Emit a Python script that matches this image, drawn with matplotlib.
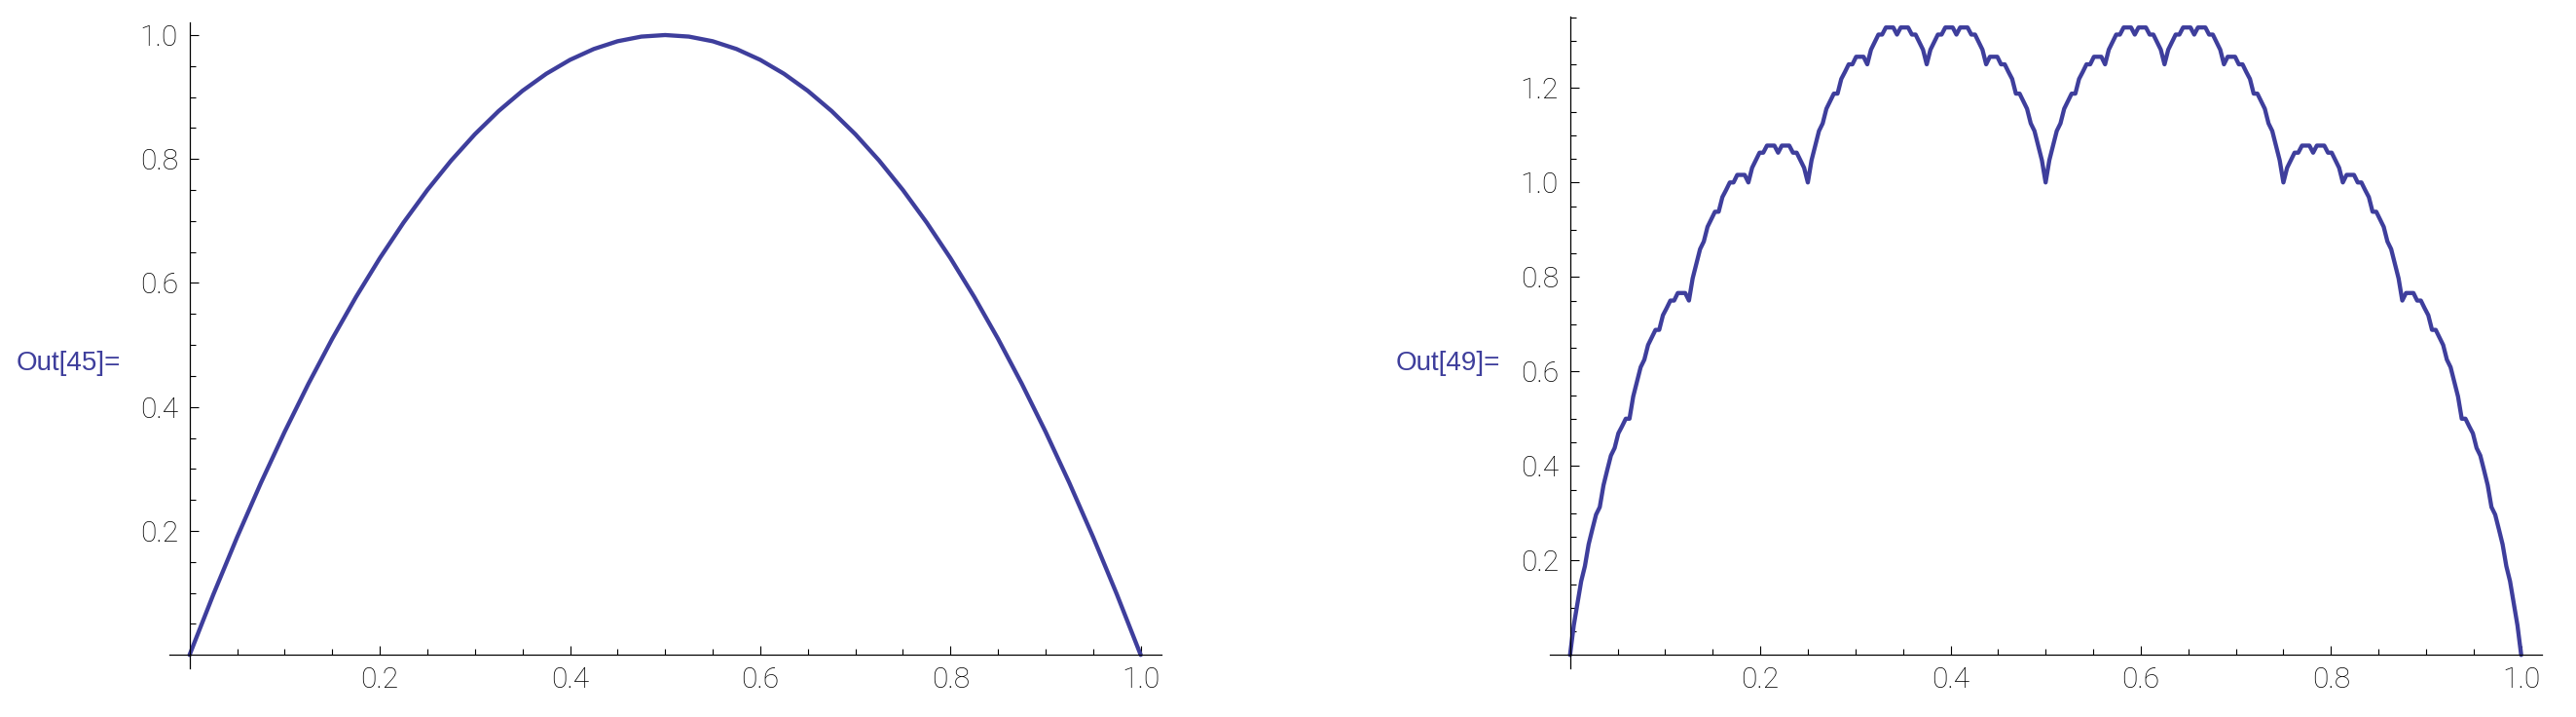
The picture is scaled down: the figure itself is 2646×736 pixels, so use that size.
import numpy as np
import matplotlib
matplotlib.use("Agg")
import matplotlib.pyplot as plt
from matplotlib.ticker import FixedLocator

# Out[45]: parabola, values read every 0.025
par_x = np.linspace(0, 1, 41)
par_y = [0, 0.0975, 0.19, 0.2775, 0.36, 0.4375, 0.51, 0.5775, 0.64, 0.6975,
         0.75, 0.7975, 0.84, 0.8775, 0.91, 0.9375, 0.96, 0.9775, 0.99, 0.9975,
         1.0,
         0.9975, 0.99, 0.9775, 0.96, 0.9375, 0.91, 0.8775, 0.84, 0.7975, 0.75,
         0.6975, 0.64, 0.5775, 0.51, 0.4375, 0.36, 0.2775, 0.19, 0.0975, 0]

# Out[49]: bumpy curve, values read every 1/256
frac_x = np.linspace(0, 1, 257)
frac_y = [0, 0.0625, 0.109, 0.156, 0.188, 0.234, 0.266, 0.297,
          0.313, 0.359, 0.391, 0.422, 0.438, 0.469, 0.484, 0.5,
          0.5, 0.547, 0.578, 0.609, 0.625, 0.656, 0.672, 0.688,
          0.688, 0.719, 0.734, 0.75, 0.75, 0.766, 0.766, 0.766,
          0.75, 0.797, 0.828, 0.859, 0.875, 0.906, 0.922, 0.938,
          0.938, 0.969, 0.984, 1.0, 1.0, 1.016, 1.016, 1.016,
          1.0, 1.031, 1.047, 1.063, 1.063, 1.078, 1.078, 1.078,
          1.063, 1.078, 1.078, 1.078, 1.063, 1.063, 1.047, 1.031,
          1.0, 1.047, 1.078, 1.109, 1.125, 1.156, 1.172, 1.188,
          1.188, 1.219, 1.234, 1.25, 1.25, 1.266, 1.266, 1.266,
          1.25, 1.281, 1.297, 1.313, 1.313, 1.328, 1.328, 1.328,
          1.313, 1.328, 1.328, 1.328, 1.313, 1.313, 1.297, 1.281,
          1.25, 1.281, 1.297, 1.313, 1.313, 1.328, 1.328, 1.328,
          1.313, 1.328, 1.328, 1.328, 1.313, 1.313, 1.297, 1.281,
          1.25, 1.266, 1.266, 1.266, 1.25, 1.25, 1.234, 1.219,
          1.188, 1.188, 1.172, 1.156, 1.125, 1.109, 1.078, 1.047,
          1.0,
          1.047, 1.078, 1.109, 1.125, 1.156, 1.172, 1.188, 1.188,
          1.219, 1.234, 1.25, 1.25, 1.266, 1.266, 1.266, 1.25,
          1.281, 1.297, 1.313, 1.313, 1.328, 1.328, 1.328, 1.313,
          1.328, 1.328, 1.328, 1.313, 1.313, 1.297, 1.281, 1.25,
          1.281, 1.297, 1.313, 1.313, 1.328, 1.328, 1.328, 1.313,
          1.328, 1.328, 1.328, 1.313, 1.313, 1.297, 1.281, 1.25,
          1.266, 1.266, 1.266, 1.25, 1.25, 1.234, 1.219, 1.188,
          1.188, 1.172, 1.156, 1.125, 1.109, 1.078, 1.047, 1.0,
          1.031, 1.047, 1.063, 1.063, 1.078, 1.078, 1.078, 1.063,
          1.078, 1.078, 1.078, 1.063, 1.063, 1.047, 1.031, 1.0,
          1.016, 1.016, 1.016, 1.0, 1.0, 0.984, 0.969, 0.938,
          0.938, 0.922, 0.906, 0.875, 0.859, 0.828, 0.797, 0.75,
          0.766, 0.766, 0.766, 0.75, 0.75, 0.734, 0.719, 0.688,
          0.688, 0.672, 0.656, 0.625, 0.609, 0.578, 0.547, 0.5,
          0.5, 0.484, 0.469, 0.438, 0.422, 0.391, 0.359, 0.313,
          0.297, 0.266, 0.234, 0.188, 0.156, 0.109, 0.0625, 0]

x_major = [0.2, 0.4, 0.6, 0.8, 1.0]
y_major_left = [0.2, 0.4, 0.6, 0.8, 1.0]
y_major_right = [0.2, 0.4, 0.6, 0.8, 1.0, 1.2]
out_labels = ["Out[45]=", "Out[49]="]

LINE = "#3e3e9c"
W, H = 2646, 736

fig = plt.figure(figsize=(W / 100, H / 100), dpi=100)
fig.patch.set_facecolor("white")


def style(ax, xlim, ylim, ymajor):
    ax.set_xlim(*xlim)
    ax.set_ylim(*ylim)
    for s in ("top", "right"):
        ax.spines[s].set_visible(False)
    for s in ("left", "bottom"):
        ax.spines[s].set_position(("data", 0))
        ax.spines[s].set_linewidth(0.9)
    ax.xaxis.set_major_locator(FixedLocator(x_major))
    ax.yaxis.set_major_locator(FixedLocator(ymajor))
    xm = [i * 0.05 for i in range(1, 21) if i % 4]
    ym = [i * 0.05 for i in range(1, int(ylim[1] / 0.05 + 1e-6) + 1) if i % 4]
    ax.xaxis.set_minor_locator(FixedLocator(xm))
    ax.yaxis.set_minor_locator(FixedLocator(ym))
    ax.set_xticklabels([f"{v:.1f}" for v in x_major])
    ax.set_yticklabels([f"{v:.1f}" for v in ymajor])
    ax.tick_params(which="major", direction="in", length=6.5, width=0.8,
                   pad=8.5, labelsize=21.5, labelcolor="#000000")
    ax.tick_params(which="minor", direction="in", length=4.3, width=0.8)
    for lab in ax.get_xticklabels() + ax.get_yticklabels():
        lab.set_family(["Roboto", "DejaVu Sans"])
        lab.set_fontweight("light")


ax1 = fig.add_axes([174 / W, 1 - 685.7 / H, 1018.7 / W, 662.7 / H])
ax1.plot(par_x, par_y, color=LINE, lw=3.1, clip_on=False,
         solid_joinstyle="round", solid_capstyle="round")
style(ax1, (-0.0212, 1.0215), (-0.0211, 1.0204), y_major_left)

ax2 = fig.add_axes([1592 / W, 1 - 685.7 / H, 1018.7 / W, 668.7 / H])
ax2.plot(frac_x, frac_y, color=LINE, lw=3.1, clip_on=False,
         solid_joinstyle="round", solid_capstyle="round")
style(ax2, (-0.0212, 1.0215), (-0.0276, 1.3511), y_major_right)

fig.text(17 / W, 1 - 373 / H, out_labels[0], color=LINE, fontsize=20,
         family=["Liberation Sans", "DejaVu Sans"], ha="left", va="center")
fig.text(1434 / W, 1 - 373 / H, out_labels[1], color=LINE, fontsize=20,
         family=["Liberation Sans", "DejaVu Sans"], ha="left", va="center")

fig.savefig("out.png", dpi=100, facecolor="white")
